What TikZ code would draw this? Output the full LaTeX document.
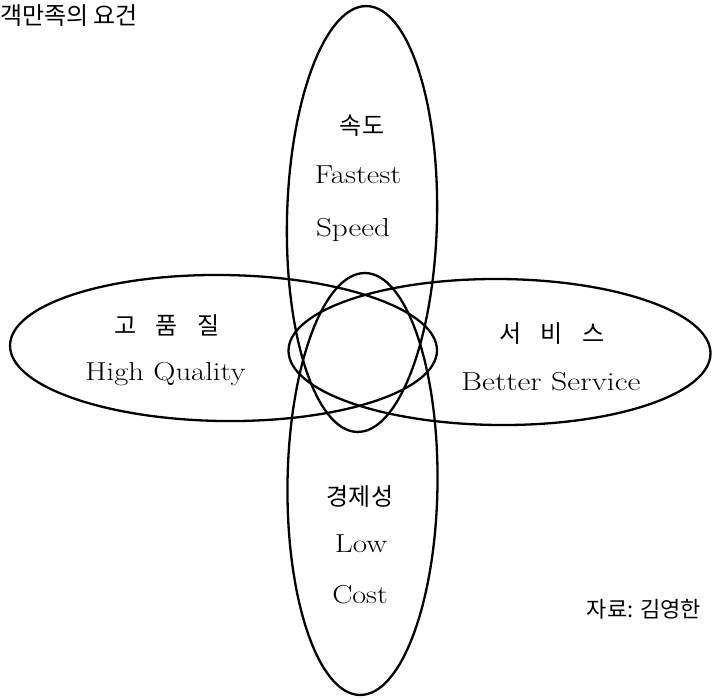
\documentclass[tikz,border=0pt]{standalone}
\usepackage{fontspec}
\usepackage{graphicx}
\newfontfamily\kr{Noto Sans CJK KR}
\begin{document}
\begin{tikzpicture}[x=1pt,y=-1pt,
  oval/.style={draw=black, line width=2.3pt},
  lat/.style={font=\fontsize{26}{30}\selectfont, inner sep=0pt, anchor=base},
  kor/.style={font=\kr\fontsize{24}{28}\selectfont, inner sep=0pt, anchor=base},
  ttl/.style={font=\kr\fontsize{24}{28}\selectfont, inner sep=0pt, anchor=base west}]
\useasboundingbox (0,0) rectangle (712,697);
% ellipses
\draw[oval, rotate around={-1.3:(362,219)}] (362,219) ellipse [x radius=75, y radius=213];
\draw[oval, rotate around={-0.7:(362.5,484)}] (362.5,484) ellipse [x radius=75, y radius=211];
\draw[oval, rotate around={-0.7:(223.5,348)}] (223.5,348) ellipse [x radius=213.5, y radius=73];
\draw[oval, rotate around={-0.4:(499.5,352)}] (499.5,352) ellipse [x radius=211, y radius=73];
% title
\node[ttl] (title) at (0,24) {객만족의 요건};
% top
\node[kor] (t1) at (362,134) {속도};
\node[lat] (t2) at (358,183) {\scalebox{1.18}[1]{Fastest}};
\node[lat] (t3) at (353,236) {\scalebox{1.2}[1]{Speed}};
% left
\node[kor] (l1) at (167,334) {고\hspace{19pt}품\hspace{19pt}질};
\node[lat] (l2) at (165.5,380) {\scalebox{1.18}[1]{High Quality}};
% right
\node[kor] (r1) at (552,342) {서\hspace{19pt}비\hspace{19pt}스};
\node[lat] (r2) at (551,390) {\scalebox{1.22}[1]{Better Service}};
% bottom
\node[kor] (b1) at (360,505) {경제성};
\node[lat] (b2) at (361,552) {\scalebox{1.2}[1]{Low}};
\node[lat] (b3) at (360,603) {\scalebox{1.16}[1]{Cost}};
% source
\node[kor, font=\kr\fontsize{22}{26}\selectfont] (src) at (644,617) {자료:\hspace{7pt}김영한};
\end{tikzpicture}
\end{document}
